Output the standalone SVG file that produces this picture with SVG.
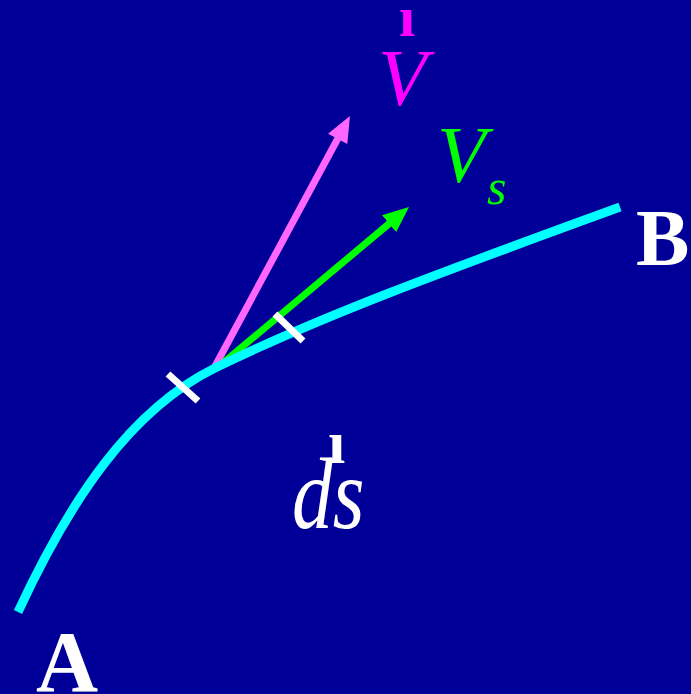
<svg xmlns="http://www.w3.org/2000/svg" width="691" height="694" viewBox="0 0 691 694">
<style>
.it{font-family:"Liberation Serif","Times New Roman",serif;font-style:italic}
.rm{font-family:"Liberation Serif","Times New Roman",serif;font-weight:bold}
.bd{font-family:"Liberation Serif","Times New Roman",serif;font-weight:bold;fill:#fff}
.tick{stroke:#fff;stroke-width:7;fill:none}
</style>
<defs>
<marker id="hm" markerUnits="userSpaceOnUse" markerWidth="30" markerHeight="30" refX="5" refY="11" orient="auto"><polygon points="0,0 26,11 0,22" fill="#ff66ff"/></marker>
<marker id="hg" markerUnits="userSpaceOnUse" markerWidth="30" markerHeight="30" refX="5" refY="11" orient="auto"><polygon points="0,0 26,11 0,22" fill="#00ff00"/></marker>
</defs>
<rect width="691" height="694" fill="#000099"/>
<g id="connectors">
<line x1="213" y1="370" x2="340" y2="134.5" stroke="#ff66ff" stroke-width="7" marker-end="url(#hm)"/>
<line x1="217" y1="368" x2="392.9" y2="220.5" stroke="#00ff00" stroke-width="7" marker-end="url(#hg)"/>
</g>
<g id="curve">
<path d="M18,612 C70,500 130,410 215,368 C330,312 470,262 620,207" fill="none" stroke="#00ffff" stroke-width="9"/>
<line class="tick" x1="168" y1="374" x2="198" y2="401"/>
<line class="tick" x1="275" y1="314" x2="303" y2="341"/>
</g>
<g id="labelV">
<text class="rm" x="399" y="36" font-size="58" fill="#ff00ff">ı</text>
<text class="it" x="378" y="105" font-size="80" fill="#ff00ff">V</text>
</g>
<g id="labelVs">
<text class="it" x="437" y="182" font-size="80" fill="#00ff00">V</text>
<text class="it" x="487" y="204" font-size="50" fill="#00ff00">s</text>
</g>
<g id="labelds">
<text class="it" x="292" y="528" font-size="96" fill="#fff" transform="translate(292,528) scale(0.85,1.05) translate(-292,-528)">ds</text>
<text class="rm" x="328" y="463" font-size="62" fill="#fff">ı</text>
</g>
<g id="A"><text class="bd" x="36" y="691" font-size="86">A</text></g>
<g id="B"><text class="bd" x="636" y="265" font-size="80">B</text></g>
</svg>
